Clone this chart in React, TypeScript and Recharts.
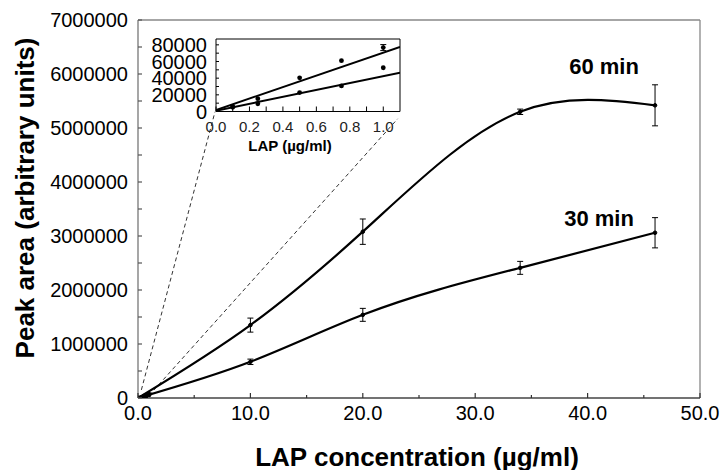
import React from 'react';
import { ComposedChart, Line, Scatter, XAxis, YAxis, ErrorBar, ReferenceLine, Label } from 'recharts';

const FONT = '"Liberation Sans", Arial, Helvetica, sans-serif';

// LAP concentration (µg/ml) of every measured sample
const CONC = [0, 0.1, 0.25, 0.5, 0.75, 1, 10, 20, 34, 46];
// peak area after 60 min
const AREA_60 = [0, 6000, 15400, 40400, 61000, 76700, 1350000, 3080000, 5300000, 5420000];
const ERR_60 = [0, 0, 0, 0, 0, 3600, 130000, 235000, 50000, 380000];
// peak area after 30 min
const AREA_30 = [0, 5000, 9300, 22700, 30700, 52500, 670000, 1540000, 2410000, 3060000];
const ERR_30 = [0, 0, 0, 0, 0, 0, 50000, 120000, 120000, 280000];

// upper end of the inset concentration range
const INSET_MAX = 1.1;

// linear fits drawn in the inset (values read at the ends of the inset x range)
const FIT_X = [0, 1.1];
const FIT_60 = [1800, 77600];
const FIT_30 = [1000, 46400];

const MAIN_X_TICKS = [0, 5, 10, 15, 20, 25, 30, 35, 40, 45, 50];
const MAIN_Y_TICKS = [0, 500000, 1000000, 1500000, 2000000, 2500000, 3000000, 3500000, 4000000, 4500000, 5000000, 5500000, 6000000, 6500000, 7000000];
const INSET_X_TICKS = [0, 0.1, 0.2, 0.3, 0.4, 0.5, 0.6, 0.7, 0.8, 0.9, 1.0];
const INSET_Y_TICKS = [0, 10000, 20000, 30000, 40000, 50000, 60000, 70000, 80000];

// dashed guides from the low-concentration region to the inset corners (main-plot data units)
const GUIDE_START = [{ x: 0.3, y: 150000 }, { x: 1.0, y: 50000 }];
const GUIDE_END = [{ x: 6.85, y: 5300000 }, { x: 23.1, y: 5170000 }];

const SERIES_LABELS = ['60 min', '30 min'];

const series = (ys: number[], errs: number[]) => CONC.map((x, i) => ({ x, y: ys[i], err: errs[i] }));
const all60 = series(AREA_60, ERR_60);
const all30 = series(AREA_30, ERR_30);
// main-scale curve: origin plus the high-concentration samples
const curve60 = all60.filter((d) => d.x === 0 || d.x > INSET_MAX);
const curve30 = all30.filter((d) => d.x === 0 || d.x > INSET_MAX);
// low-concentration samples (shown as markers on the main plot and in the inset)
const low60 = all60.filter((d) => d.x <= INSET_MAX);
const low30 = all30.filter((d) => d.x <= INSET_MAX);
const fit60 = FIT_X.map((x, i) => ({ x, y: FIT_60[i] }));
const fit30 = FIT_X.map((x, i) => ({ x, y: FIT_30[i] }));

// natural cubic spline with y as a function of x (non-uniform knots)
function naturalX(context: any) {
  let xs: number[] = [];
  let ys: number[] = [];
  return {
    areaStart() {},
    areaEnd() {},
    lineStart() {
      xs = [];
      ys = [];
    },
    point(x: number, y: number) {
      xs.push(+x);
      ys.push(+y);
    },
    lineEnd() {
      const n = xs.length;
      if (n === 0) return;
      context.moveTo(xs[0], ys[0]);
      if (n === 1) return;
      if (n === 2) {
        context.lineTo(xs[1], ys[1]);
        return;
      }
      const h: number[] = [];
      const d: number[] = [];
      for (let i = 0; i < n - 1; i++) {
        h[i] = xs[i + 1] - xs[i] || 1e-6;
        d[i] = (ys[i + 1] - ys[i]) / h[i];
      }
      const M = new Array(n).fill(0);
      const m = n - 2;
      const a: number[] = [], b: number[] = [], c: number[] = [], r: number[] = [];
      for (let k = 1; k <= m; k++) {
        a.push(h[k - 1]);
        b.push(2 * (h[k - 1] + h[k]));
        c.push(h[k]);
        r.push(6 * (d[k] - d[k - 1]));
      }
      for (let j = 1; j < m; j++) {
        const w = a[j] / b[j - 1];
        b[j] -= w * c[j - 1];
        r[j] -= w * r[j - 1];
      }
      const sol = new Array(m).fill(0);
      sol[m - 1] = r[m - 1] / b[m - 1];
      for (let j = m - 2; j >= 0; j--) sol[j] = (r[j] - c[j] * sol[j + 1]) / b[j];
      for (let j = 0; j < m; j++) M[j + 1] = sol[j];
      const s: number[] = [];
      for (let i = 0; i < n - 1; i++) s[i] = d[i] - (h[i] * (2 * M[i] + M[i + 1])) / 6;
      s[n - 1] = d[n - 2] + (h[n - 2] * (M[n - 2] + 2 * M[n - 1])) / 6;
      for (let i = 0; i < n - 1; i++) {
        context.bezierCurveTo(
          xs[i] + h[i] / 3,
          ys[i] + (s[i] * h[i]) / 3,
          xs[i + 1] - h[i] / 3,
          ys[i + 1] - (s[i + 1] * h[i]) / 3,
          xs[i + 1],
          ys[i + 1]
        );
      }
    },
  };
}

const MainXTick = (props: any) => {
  const { x, y, payload } = props;
  const v = payload.value;
  const major = v % 10 === 0;
  return (
    <g>
      <line x1={x} x2={x} y1={y} y2={y - (major ? 5 : 3)} stroke="#333" strokeWidth={1.2} />
      {major && (
        <text x={x} y={y + 14.5} textAnchor="middle" dominantBaseline="central" fontSize={20} fontFamily={FONT} fill="#000">
          {v.toFixed(1)}
        </text>
      )}
    </g>
  );
};

const MainYTick = (props: any) => {
  const { x, y, payload } = props;
  const v = payload.value;
  const major = v % 1000000 === 0;
  return (
    <g>
      <line x1={x} x2={x + 4} y1={y} y2={y} stroke="#555" strokeWidth={1.2} />
      {major && (
        <text x={x - 10} y={y} textAnchor="end" dominantBaseline="central" fontSize={20} fontFamily={FONT} fill="#000">
          {String(v)}
        </text>
      )}
    </g>
  );
};

const InsetXTick = (props: any) => {
  const { x, y, payload } = props;
  const v = payload.value;
  const major = Math.round(v * 10) % 2 === 0;
  return (
    <g>
      <line x1={x} x2={x} y1={y} y2={y - 5} stroke="#000" strokeWidth={1} />
      {major && (
        <text x={x} y={y + 15} textAnchor="middle" dominantBaseline="central" fontSize={15} fontFamily={FONT} fill="#222">
          {v.toFixed(1)}
        </text>
      )}
    </g>
  );
};

const InsetYTick = (props: any) => {
  const { x, y, payload } = props;
  const v = payload.value;
  const major = v % 20000 === 0;
  return (
    <g>
      <line x1={x} x2={x + 3} y1={y} y2={y} stroke="#000" strokeWidth={1} />
      {major && (
        <text x={x - 9} y={y} textAnchor="end" dominantBaseline="central" fontSize={20} fontFamily={FONT} fill="#000">
          {String(v)}
        </text>
      )}
    </g>
  );
};

const XTitle = (p: any) => {
  const vb = p.viewBox || { x: 138, y: 398, width: 562, height: 72 };
  return (
    <text x={vb.x + vb.width / 2 - 2} y={vb.y + vb.height - 4.5} textAnchor="middle" fontSize={26} fontWeight="bold" fontFamily={FONT} fill="#000">
      LAP concentration (µg/ml)
    </text>
  );
};

const YTitle = (p: any) => {
  const vb = p.viewBox || { x: 0, y: 20, width: 138, height: 378 };
  const cx = vb.x + 25;
  const cy = vb.y + vb.height / 2 - 11;
  return (
    <text x={cx} y={cy} transform={`rotate(-90, ${cx}, ${cy})`} textAnchor="middle" dominantBaseline="central" fontSize={26} fontWeight="bold" fontFamily={FONT} fill="#000">
      Peak area (arbitrary units)
    </text>
  );
};

const InsetTitle = (p: any) => {
  const vb = p.viewBox || { x: 86, y: 86.5, width: 184, height: 63.5 };
  return (
    <text x={vb.x + 74} y={vb.y + 39.5} textAnchor="middle" fontSize={15} fontWeight="bold" fontFamily={FONT} fill="#000">
      LAP (µg/ml)
    </text>
  );
};

const dotStyle = { r: 1.8, fill: '#000', stroke: '#000', strokeWidth: 1 };
const MainDot = (p: any) => <circle cx={p.cx} cy={p.cy} r={2} fill="#000" />;
const InsetDot = (p: any) => <circle cx={p.cx} cy={p.cy} r={2.4} fill="#000" />;

export default function App() {
  return (
    <div style={{ position: 'absolute', left: 0, top: 0, width: 722, height: 470, background: '#fff' }}>
      <div style={{ position: 'absolute', left: 0, top: 0 }}>
        <ComposedChart width={722} height={470} margin={{ top: 20, right: 22, bottom: 0, left: 0 }}>
          <XAxis
            type="number"
            dataKey="x"
            domain={[0, 50]}
            ticks={MAIN_X_TICKS}
            interval={0}
            height={72}
            tickSize={0}
            tickMargin={0}
            tickLine={false}
            axisLine={{ stroke: '#444', strokeWidth: 1.3 }}
            tick={<MainXTick />}
            allowDataOverflow
          >
            <Label content={XTitle} />
          </XAxis>
          <YAxis
            type="number"
            domain={[0, 7000000]}
            ticks={MAIN_Y_TICKS}
            interval={0}
            width={138}
            tickSize={0}
            tickMargin={0}
            tickLine={false}
            axisLine={{ stroke: '#777', strokeWidth: 1.3 }}
            tick={<MainYTick />}
            allowDataOverflow
          >
            <Label content={YTitle} />
          </YAxis>
          <ReferenceLine y={7000000} stroke="#888" strokeWidth={1.3} />
          <ReferenceLine x={50} stroke="#888" strokeWidth={1.3} />
          {GUIDE_START.map((s, i) => (
            <ReferenceLine key={i} segment={[s, GUIDE_END[i]]} stroke="#333" strokeWidth={1} strokeDasharray="4 3" ifOverflow="visible" />
          ))}
          <Line data={curve60} dataKey="y" type={naturalX as any} stroke="#000" strokeWidth={2.2} dot={dotStyle} activeDot={false} isAnimationActive={false}>
            <ErrorBar dataKey="err" width={3} stroke="#000" strokeWidth={1} direction="y" />
          </Line>
          <Line data={curve30} dataKey="y" type={naturalX as any} stroke="#000" strokeWidth={2.2} dot={dotStyle} activeDot={false} isAnimationActive={false}>
            <ErrorBar dataKey="err" width={3} stroke="#000" strokeWidth={1} direction="y" />
          </Line>
          <Scatter data={low60} dataKey="y" shape={MainDot} isAnimationActive={false} />
          <Scatter data={low30} dataKey="y" shape={MainDot} isAnimationActive={false} />
        </ComposedChart>
      </div>
      <div style={{ position: 'absolute', left: 130, top: 25 }}>
        <ComposedChart width={280} height={150} margin={{ top: 14, right: 10, bottom: 0, left: 0 }}>
          <XAxis
            type="number"
            dataKey="x"
            domain={[0, INSET_MAX]}
            ticks={INSET_X_TICKS}
            interval={0}
            height={63.5}
            tickSize={0}
            tickMargin={0}
            tickLine={false}
            axisLine={{ stroke: '#000', strokeWidth: 1 }}
            tick={<InsetXTick />}
            allowDataOverflow
          >
            <Label content={InsetTitle} />
          </XAxis>
          <YAxis
            type="number"
            domain={[0, 87000]}
            ticks={INSET_Y_TICKS}
            interval={0}
            width={86}
            tickSize={0}
            tickMargin={0}
            tickLine={false}
            axisLine={{ stroke: '#000', strokeWidth: 1 }}
            tick={<InsetYTick />}
            allowDataOverflow
          />
          <ReferenceLine y={87000} stroke="#000" strokeWidth={1} />
          <ReferenceLine x={INSET_MAX} stroke="#000" strokeWidth={1} />
          <Line data={fit60} dataKey="y" type="linear" stroke="#000" strokeWidth={2} dot={false} activeDot={false} isAnimationActive={false} />
          <Line data={fit30} dataKey="y" type="linear" stroke="#000" strokeWidth={2} dot={false} activeDot={false} isAnimationActive={false} />
          <Scatter data={low60} dataKey="y" shape={InsetDot} isAnimationActive={false}>
            <ErrorBar dataKey="err" width={3} stroke="#000" strokeWidth={1} direction="y" />
          </Scatter>
          <Scatter data={low30} dataKey="y" shape={InsetDot} isAnimationActive={false} />
        </ComposedChart>
      </div>
      <svg width={722} height={470} style={{ position: 'absolute', left: 0, top: 0, pointerEvents: 'none' }}>
        <text x={604} y={66} textAnchor="middle" dominantBaseline="central" fontSize={22} fontWeight="bold" fontFamily={FONT} fill="#000">
          {SERIES_LABELS[0]}
        </text>
        <text x={599} y={218} textAnchor="middle" dominantBaseline="central" fontSize={22} fontWeight="bold" fontFamily={FONT} fill="#000">
          {SERIES_LABELS[1]}
        </text>
      </svg>
    </div>
  );
}
